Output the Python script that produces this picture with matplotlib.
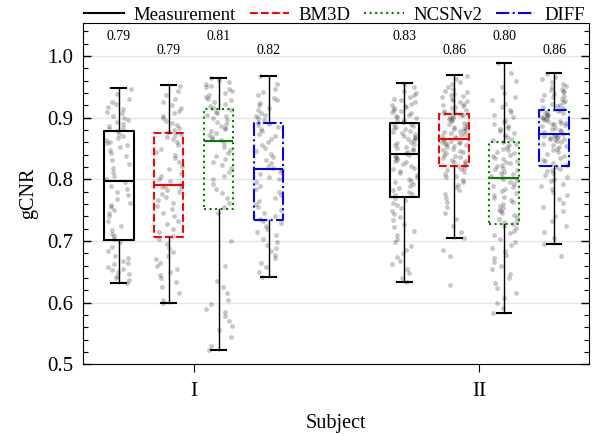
import numpy as np
import matplotlib.pyplot as plt
from matplotlib.lines import Line2D

plt.rcParams['font.family'] = ['Liberation Serif', 'DejaVu Serif']

subjects = ['I', 'II']
methods = ['Measurement', 'BM3D', 'NCSNv2', 'DIFF']
colors = ['black', 'red', 'green', 'blue']
styles = ['-', '--', ':', '-.']

# box statistics, rows = subject, columns = method
q1 = [[0.702, 0.706, 0.752, 0.734], [0.772, 0.822, 0.728, 0.821]]
med = [[0.798, 0.791, 0.862, 0.816], [0.841, 0.866, 0.802, 0.873]]
q3 = [[0.879, 0.875, 0.914, 0.891], [0.891, 0.906, 0.861, 0.912]]
whislo = [[0.632, 0.599, 0.523, 0.642], [0.633, 0.705, 0.584, 0.695]]
whishi = [[0.948, 0.953, 0.965, 0.968], [0.956, 0.969, 0.989, 0.972]]
means = [[0.79, 0.79, 0.81, 0.82], [0.83, 0.86, 0.80, 0.86]]

# individual gCNR values (x1000)
meas_I = [632, 636, 640, 643, 646, 650, 653, 655, 658, 662, 665, 668, 672, 676, 683, 690, 698,
          704, 708, 712, 718, 725, 733, 740, 745, 750, 755, 758, 762, 768, 775, 780, 785, 790, 796,
          800, 805, 812, 818, 825, 832, 838, 843, 848, 852, 856, 859, 861, 864, 867, 870, 874, 878,
          881, 884, 887, 890, 893, 896, 900, 903, 907, 910, 914, 918, 922, 926, 931, 938, 947]
bm3d_I = [599, 605, 615, 625, 633, 640, 645, 650, 655, 660, 665, 670, 676, 682, 688, 695, 703,
          708, 714, 720, 727, 733, 740, 746, 752, 757, 762, 767, 772, 776, 780, 783, 786, 788, 790,
          793, 797, 801, 806, 811, 817, 822, 828, 834, 840, 845, 850, 855, 860, 865, 869, 872, 874,
          877, 880, 884, 888, 891, 895, 899, 903, 907, 911, 915, 920, 925, 930, 936, 943, 952]
ncsn_I = [523, 530, 545, 555, 562, 570, 578, 585, 590, 598, 605, 615, 625, 635, 660, 700, 745,
          755, 762, 770, 778, 785, 792, 800, 806, 812, 818, 823, 828, 833, 838, 843, 848, 853, 859,
          863, 866, 869, 872, 875, 878, 881, 884, 887, 890, 893, 896, 899, 902, 905, 908, 910, 913,
          916, 919, 922, 925, 928, 931, 934, 937, 940, 943, 946, 949, 952, 955, 958, 961, 965]
diff_I = [642, 650, 658, 665, 672, 678, 684, 689, 694, 699, 704, 709, 714, 719, 724, 729, 733,
          736, 740, 745, 750, 755, 760, 765, 770, 775, 780, 785, 790, 795, 800, 804, 808, 812, 815,
          818, 822, 826, 831, 836, 841, 846, 851, 856, 861, 866, 870, 874, 878, 882, 885, 888, 890,
          893, 896, 899, 902, 905, 908, 912, 916, 920, 924, 928, 932, 936, 941, 947, 955, 967]
meas_II = [633, 640, 648, 655, 662, 668, 674, 680, 686, 692, 698, 704, 710, 716, 722, 728, 734,
           739, 744, 749, 754, 758, 762, 766, 770,
           774, 777, 780, 783, 786, 789, 792, 795, 798, 801, 804, 807, 810, 813, 816, 819, 822,
           825, 828, 830, 832, 834, 836, 838, 840,
           843, 845, 847, 849, 851, 853, 855, 857, 859, 861, 863, 865, 867, 869, 871, 873, 875,
           877, 879, 881, 883, 885, 887, 889, 890,
           893, 895, 897, 899, 901, 903, 905, 907, 909, 911, 913, 915, 917, 919, 921, 923, 925,
           928, 931, 934, 937, 940, 944, 949, 955]
bm3d_II = [629, 676, 685, 705, 715, 725, 735, 745, 755, 763, 770, 776, 782, 787, 791, 795, 799,
           803, 806, 809, 812, 815, 817, 819, 821,
           824, 826, 828, 830, 832, 834, 836, 838, 840, 842, 844, 846, 848, 850, 852, 854, 855,
           857, 858, 859, 860, 861, 862, 864, 865,
           867, 869, 870, 872, 873, 875, 876, 878, 879, 881, 882, 884, 885, 887, 889, 890, 892,
           894, 896, 898, 899, 901, 903, 904, 905,
           907, 909, 911, 913, 915, 917, 919, 921, 923, 925, 927, 929, 931, 933, 935, 937, 939,
           941, 944, 947, 950, 954, 958, 963, 968]
ncsn_II = [584, 592, 600, 608, 616, 624, 632, 640, 647, 654, 660, 666, 672, 678, 684, 689, 694,
           699, 704, 709, 713, 717, 721, 724, 727,
           730, 733, 736, 739, 742, 745, 748, 751, 754, 757, 760, 763, 766, 769, 772, 775, 778,
           781, 784, 787, 790, 793, 796, 799, 801,
           804, 806, 808, 810, 812, 815, 817, 819, 821, 824, 826, 828, 830, 833, 835, 838, 840,
           843, 845, 848, 850, 853, 855, 858, 860,
           863, 866, 869, 872, 875, 878, 881, 884, 887, 890, 893, 897, 901, 905, 909, 913, 918,
           923, 928, 934, 940, 950, 960, 972, 988]
diff_II = [676, 695, 705, 715, 724, 732, 740, 748, 755, 762, 768, 774, 779, 784, 789, 793, 797,
           801, 804, 807, 810, 813, 815, 817, 820,
           823, 826, 829, 832, 835, 838, 841, 844, 847, 850, 852, 854, 856, 858, 860, 862, 864,
           865, 866, 867, 868, 869, 870, 871, 872,
           874, 876, 878, 880, 882, 884, 886, 888, 889, 890, 891, 892, 894, 895, 896, 898, 899,
           901, 902, 904, 905, 907, 908, 910, 911,
           913, 915, 917, 919, 921, 923, 925, 927, 929, 931, 933, 935, 937, 939, 941, 943, 945,
           947, 949, 952, 955, 958, 962, 966, 971]

points = [[meas_I, bm3d_I, ncsn_I, diff_I], [meas_II, bm3d_II, ncsn_II, diff_II]]

offsets = [-0.2625, -0.0875, 0.0875, 0.2625]
box_w = 0.103
jit = 0.046

fig = plt.figure(figsize=(5.95, 4.34), dpi=100)
ax = fig.add_axes([0.139, 0.1606, 0.851, 0.787])

for s in range(len(subjects)):
    for m in range(len(methods)):
        pos = s + offsets[m]
        vals = np.array(points[s][m]) / 1000
        # deterministic hash jitter (position only)
        k = np.arange(len(vals)) + 37 * (4 * s + m)
        frac = (np.sin(k * 12.9898 + 1.7) * 43758.5453) % 1
        xs = pos + (frac - 0.5) * 2 * jit
        ax.scatter(xs, vals, s=12, color='k', alpha=0.22, linewidths=0, zorder=1)

        stats = dict(med=med[s][m], q1=q1[s][m], q3=q3[s][m],
                     whislo=whislo[s][m], whishi=whishi[s][m], fliers=[])
        ax.bxp([stats], positions=[pos], widths=box_w, showfliers=False,
               manage_ticks=False,
               boxprops=dict(color=colors[m], linestyle=styles[m], linewidth=1.5),
               medianprops=dict(color=colors[m], linestyle='-', linewidth=1.5),
               whiskerprops=dict(color='k', linewidth=1),
               capprops=dict(color='k', linewidth=1.5))

        ytxt = 1.032 if m % 2 == 0 else 1.009
        ax.text(pos, ytxt, f'{means[s][m]:.2f}', ha='center', va='center', fontsize=10)

ax.set_xlim(-0.389, 1.385)
ax.set_ylim(0.5, 1.054)
ax.set_xticks([0, 1])
ax.set_xticklabels(subjects)
ax.set_yticks([0.5, 0.6, 0.7, 0.8, 0.9, 1.0])
ax.set_yticks(np.arange(0.5, 1.055, 0.02), minor=True)
ax.yaxis.grid(True, color='0.9', linewidth=1)
ax.set_axisbelow(True)

ax.tick_params(axis='y', which='both', direction='in', left=True, right=True, labelsize=15, pad=7)
ax.tick_params(axis='y', which='major', length=5.8, width=1)
ax.tick_params(axis='y', which='minor', length=3.4, width=0.8)
ax.tick_params(axis='x', which='both', direction='out', bottom=True, top=False, length=5.8,
               labelsize=15, pad=7)
ax.tick_params(axis='x', which='minor', bottom=False)

ax.set_xlabel('Subject', fontsize=14.5, labelpad=9)
ax.set_ylabel('gCNR', fontsize=14.5, labelpad=6)

handles = [Line2D([], [], color=colors[m], linestyle=styles[m], linewidth=1.5) for m in range(4)]
ax.legend(handles, methods, loc='center', bbox_to_anchor=(0.498, 1.022), ncol=4,
          frameon=False, fontsize=13.5, borderaxespad=0, borderpad=0, handlelength=2.1,
          handletextpad=0.5, columnspacing=0.75)

fig.savefig('out.png', dpi=100)
